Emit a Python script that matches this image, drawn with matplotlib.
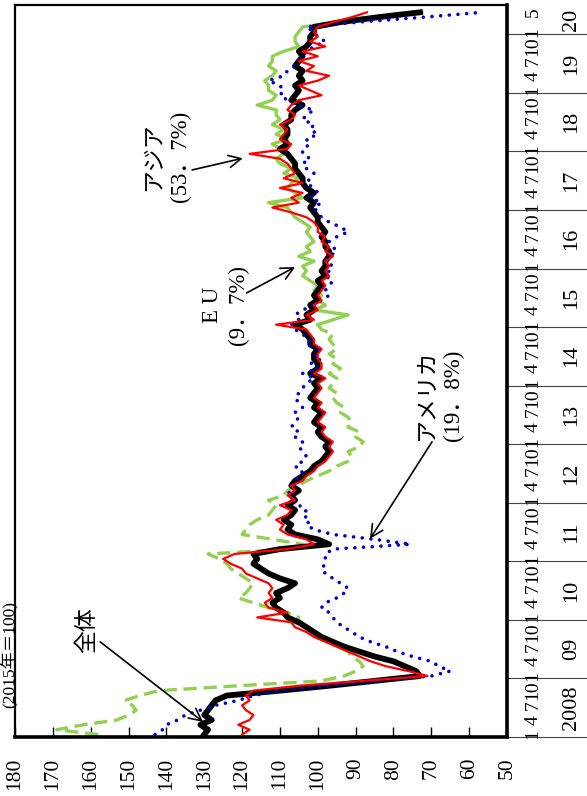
import numpy as np
import matplotlib
matplotlib.use("Agg")
import matplotlib.pyplot as plt

SERIF = ["Liberation Serif", "Noto Sans CJK JP"]

# monthly export volume index, Jan 2008 .. May 2020 (2015 = 100)
total = [
    130, 129, 131, 128, 130, 129, 128, 127, 124, 110, 97, 85,      # 2008
    73, 74, 77, 80, 85, 89, 93, 96, 99, 101, 103, 105,             # 2009
    108, 109, 111, 112, 110, 111, 108, 106, 110, 113, 115, 117,    # 2010
    116, 117, 110, 97, 100, 106, 108, 107, 109, 107, 106, 108,     # 2011
    106, 107, 105, 107, 106, 104, 102, 101, 99, 98, 97, 98,        # 2012
    97, 99, 100, 99, 101, 100, 99, 101, 100, 102, 101, 100,        # 2013
    101, 99, 102, 100, 100, 101, 101, 100, 102, 102, 103, 104,     # 2014
    106, 102, 103, 101, 102, 100, 101, 100, 99, 100, 98, 99,       # 2015
    98, 98, 97, 97, 98, 98, 99, 98, 99, 100, 100, 101,             # 2016
    102, 101, 103, 101, 103, 104, 104, 105, 106, 106, 107, 108,    # 2017
    110, 108, 109, 108, 108, 109, 107, 107, 106, 104, 107, 106,    # 2018
    105, 106, 104, 105, 104, 106, 105, 104, 105, 103, 102, 102,    # 2019
    101, 101, 94, 84, 73,                                          # 2020
]
asia = [
    120, 118, 121, 118, 117, 119, 120, 118, 119, 117, 105, 88,
    71, 76, 82, 86, 89, 92, 95, 98, 101, 103, 106, 107,
    116, 108, 113, 114, 112, 113, 112, 113, 116, 119, 120, 123,
    125, 122, 108, 101, 103, 108, 110, 109, 111, 108, 107, 110,
    106, 108, 106, 107, 104, 103, 101, 100, 98, 97, 96, 97,
    96, 98, 99, 98, 100, 99, 98, 100, 99, 101, 100, 99,
    100, 98, 101, 99, 99, 100, 100, 99, 101, 101, 102, 103,
    111, 101, 103, 100, 101, 99, 100, 99, 98, 99, 97, 98,
    97, 98, 96, 98, 97, 99, 98, 100, 100, 101, 103, 107,
    112, 105, 107, 104, 110, 104, 109, 106, 107, 108, 110, 118,
    108, 107, 110, 109, 108, 110, 107, 106, 108, 107, 105, 99,
    102, 105, 100, 97, 103, 101, 105, 100, 104, 98, 102, 100,
    101, 100, 96, 91, 87,
]
eu = [
    158, 169, 162, 153, 150, 148, 149, 151, 147, 142, 121, 99,
    93, 90, 88, 89, 91, 92, 94, 96, 99, 101, 103, 106,
    105, 108, 113, 117, 121, 119, 118, 117, 119, 121, 123, 124,
    126, 129, 107, 104, 112, 120, 119, 118, 116, 113, 112, 111,
    113, 109, 108, 105, 103, 100, 97, 95, 92, 91, 92, 89,
    88, 90, 89, 92, 91, 92, 94, 93, 95, 96, 95, 97,
    96, 95, 97, 94, 96, 95, 97, 95, 96, 97, 96, 99,
    100, 96, 92, 101, 98, 100, 99, 101, 100, 102, 104, 103,
    104, 101, 105, 102, 103, 101, 102, 103, 102, 104, 106, 107,
    108, 113, 104, 106, 108, 107, 105, 109, 107, 110, 111, 109,
    110, 112, 108, 111, 109, 112, 110, 111, 111, 116, 112, 111,
    113, 113, 114, 112, 111, 113, 112, 112, 109, 105, 106, 106,
    105, 104, 95, 84, 72.5,
]
america = [
    143, 141, 140, 137, 135, 131, 127, 121, 117, 110, 97, 84,
    70, 65, 68, 70, 75, 79, 82, 86, 89, 91, 93, 95,
    96, 97, 99, 98, 95, 93, 92, 94, 96, 98, 99, 98,
    98, 98, 96, 75.5, 85, 96, 101, 103, 102, 104, 103, 105,
    106, 107, 108, 107, 106, 105, 104, 106, 104, 103, 104, 105,
    104, 106, 105, 107, 106, 105, 106, 104, 105, 106, 105, 104,
    103, 101, 104, 100, 102, 99, 101, 100, 103, 102, 104, 106,
    107, 105, 106, 104, 101, 99, 97, 98, 97, 96, 98, 97,
    96, 98, 97, 95, 96, 97, 95, 92, 94, 97, 99, 100,
    101, 99, 102, 100, 101, 103, 102, 101, 103, 104, 102, 104,
    104, 102, 103, 100, 102, 101, 104, 103, 101, 106, 108, 110,
    109, 110, 113, 109, 108, 106, 105, 104, 103, 101, 98, 100,
    101, 103, 89, 72, 56.5,
]
eu_dash_end = 84          # EU line switches from dashed to solid here

years = ["2008", "09", "10", "11", "12", "13", "14", "15", "16", "17", "18", "19", "20"]
month_labels = ["1", "4", "7", "10"]
value_ticks = list(range(50, 181, 10))

n = len(total)
t = np.arange(n)

fig = plt.figure(figsize=(5.87, 7.96), dpi=100)
ax = fig.add_axes([15 / 587, 59 / 796, 492 / 587, 732 / 796])

green = "#92D050"
ax.plot(eu[:eu_dash_end + 1], t[:eu_dash_end + 1], color=green, lw=2.4,
        ls=(0, (4, 2)), zorder=2)
ax.plot(eu[eu_dash_end:], t[eu_dash_end:], color=green, lw=2.4, zorder=2)
ax.plot(total, t, color="black", lw=4.2, zorder=3, solid_joinstyle="round")
ax.plot(america, t, color="#0000CC", lw=2.6, ls=(0, (0.01, 2.4)),
        dash_capstyle="round", zorder=4)
ax.plot(asia, t, color="#FF0000", lw=1.6, zorder=5)

ax.set_xlim(180, 50)
ax.set_ylim(-0.5, 149.5)
ax.set_xticks(value_ticks)
ax.set_xticklabels([str(v) for v in value_ticks], family=SERIF, fontsize=15.5,
                   rotation=90)
ax.tick_params(axis="x", direction="in", length=7, width=1, pad=15)
ax.set_yticks([])
for side, w in [("left", 1.6), ("top", 1.6), ("bottom", 2.6), ("right", 2.6)]:
    ax.spines[side].set_linewidth(w)

# time axis drawn as a table on the right side
ytr = ax.get_yaxis_transform()
for k in range(len(years)):
    ax.plot([1.0, 1.165], [12 * k - 0.5] * 2, transform=ytr, clip_on=False,
            color="#444444", lw=0.8)
for k, yl in enumerate(years):
    start = 12 * k
    if start + 11 < n:
        for j, m in enumerate(month_labels):
            ax.text(1.053, start + 3 * j, m, transform=ytr, rotation=90,
                    ha="center", va="center", family=SERIF, fontsize=14)
        ymid = start + 5.5
    else:
        ax.text(1.053, start, "1", transform=ytr, rotation=90,
                ha="center", va="center", family=SERIF, fontsize=14)
        ax.text(1.053, n - 1, "5", transform=ytr, rotation=90,
                ha="center", va="center", family=SERIF, fontsize=14)
        ymid = (start - 0.5 + 149.5) / 2
    ax.text(1.132, ymid, yl, transform=ytr, rotation=90,
            ha="center", va="center", family=SERIF, fontsize=16)

fig.text(0, 1 - 655 / 796, "(2015年＝100)", rotation=90,
         ha="left", va="center", family=SERIF, fontsize=12.5)

# labels and arrows
arrow = dict(arrowstyle="->", lw=1.2, color="black", mutation_scale=22,
             shrinkA=0, shrinkB=0)
labels = [
    ("全体", (161.0, 21.4), (157.5, 19.0), (130.3, 2.6)),
    ("アメリカ\n(19．8%)", (67.5, 69.6), (69.8, 60.0), (86.2, 40.1)),
    ("E U\n(9．7%)", (124.3, 88.0), (118.8, 90.5), (106.0, 95.8)),
    ("アジア\n(53．7%)", (139.6, 118.4), (133.2, 115.7), (119.8, 118.1)),
]
for txt, pos, a0, a1 in labels:
    ax.text(pos[0], pos[1], txt, rotation=90, ha="center", va="center",
            multialignment="center", family=SERIF, fontsize=16.5,
            linespacing=1.3, zorder=6)
    ax.annotate("", xy=a1, xytext=a0, arrowprops=arrow, zorder=6)

fig.savefig("out.png", dpi=100)
